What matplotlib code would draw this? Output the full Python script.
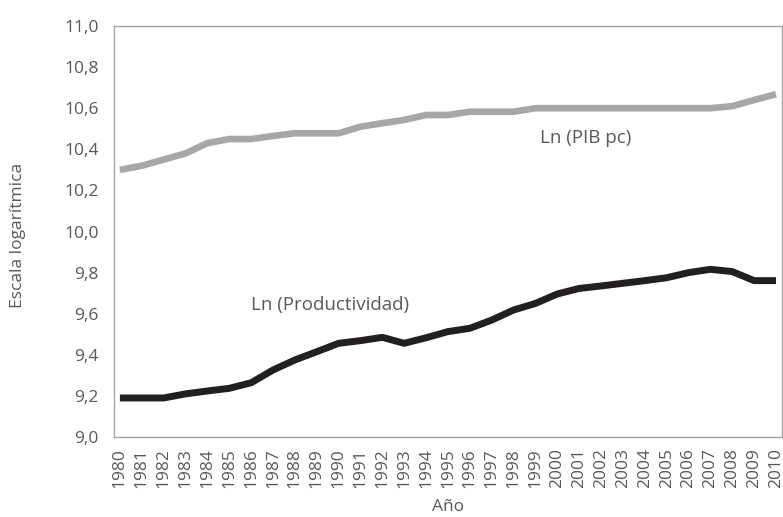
import matplotlib

matplotlib.use("Agg")
import matplotlib.pyplot as plt
from matplotlib.ticker import FuncFormatter, MultipleLocator

years = list(range(1980, 2011))
ln_pib_pc = [
    10.30, 10.32, 10.35, 10.38, 10.43, 10.45, 10.45, 10.465, 10.478, 10.478,
    10.478, 10.51, 10.527, 10.543, 10.567, 10.567, 10.583, 10.583, 10.583, 10.60,
    10.60, 10.60, 10.60, 10.60, 10.60, 10.60, 10.60, 10.60, 10.61, 10.64,
    10.668,
]
ln_productividad = [
    9.19, 9.19, 9.19, 9.21, 9.224, 9.237, 9.264, 9.326, 9.375, 9.415,
    9.456, 9.469, 9.485, 9.456, 9.483, 9.513, 9.529, 9.569, 9.618, 9.65,
    9.696, 9.723, 9.735, 9.748, 9.761, 9.775, 9.80, 9.816, 9.805, 9.761,
    9.761,
]

TEXT = "#58595b"
FONT = "Open Sans"

fig = plt.figure(figsize=(7.83, 5.17), dpi=100)
ax = fig.add_axes([0.1456, 0.1547, 0.853, 0.795])

ax.plot(years, ln_pib_pc, color="#a7a7aa", lw=4.8, solid_capstyle="butt")
ax.plot(years, ln_productividad, color="#231f20", lw=5.0, solid_capstyle="butt")

ax.text(2001.3, 10.455, "Ln (PIB pc)", ha="center", va="center",
        fontsize=13.5, color=TEXT, family=FONT)
ax.text(1989.6, 9.64, "Ln (Productividad)", ha="center", va="center",
        fontsize=13.5, color=TEXT, family=FONT)

ax.set_xlim(1979.73, 2010.27)
ax.set_ylim(9.0, 11.0)
ax.set_xticks(years)
ax.yaxis.set_major_locator(MultipleLocator(0.2))
ax.yaxis.set_major_formatter(FuncFormatter(lambda v, _: f"{v:.1f}".replace(".", ",")))
ax.tick_params(length=0, labelsize=12.5, labelcolor=TEXT)
ax.tick_params(axis="x", rotation=90, pad=8)
ax.tick_params(axis="y", pad=11)
for lab in ax.get_xticklabels() + ax.get_yticklabels():
    lab.set_family(FONT)

for side in ax.spines.values():
    side.set_color("#a6a6a6")
    side.set_linewidth(1.0)

fig.text(448 / 783, 1 - 507 / 517, "Año", ha="center", va="center",
         fontsize=12.5, color=TEXT, family=FONT)
fig.text(18 / 783, 1 - 235 / 517, "Escala logarítmica", ha="center", va="center",
         rotation=90, fontsize=12.5, color=TEXT, family=FONT)

fig.savefig("out.png", dpi=100)
plt.close(fig)
